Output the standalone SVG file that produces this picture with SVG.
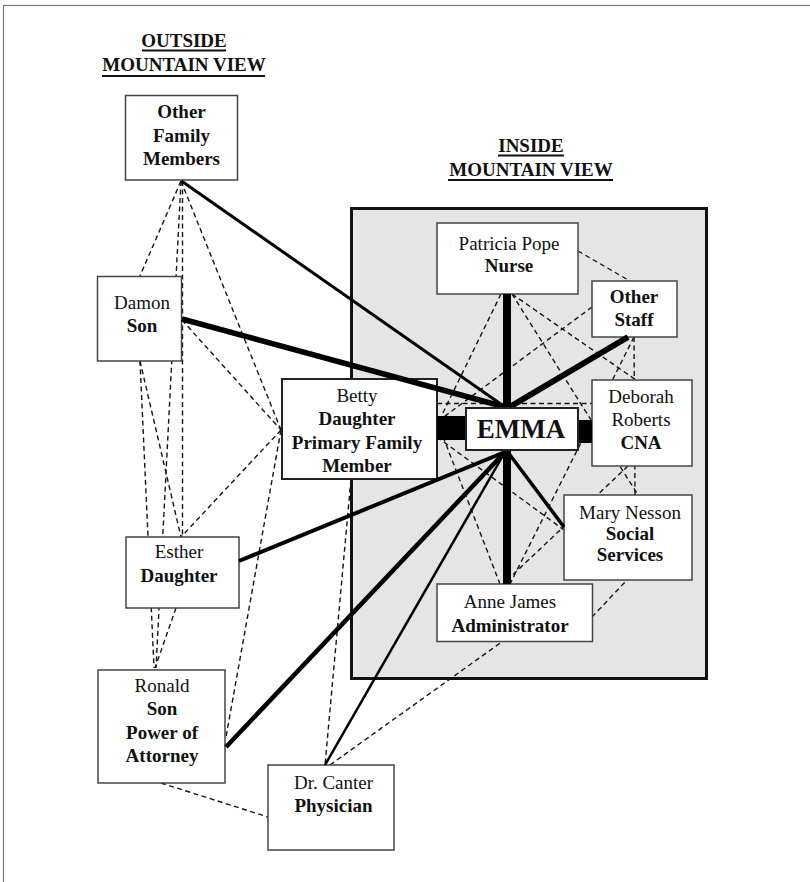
<svg xmlns="http://www.w3.org/2000/svg" width="810" height="882" viewBox="0 0 810 882">
<defs>
<style>
.t{font-family:"Liberation Serif","Times New Roman",serif;font-size:19px;fill:#111;text-anchor:middle}
.b{font-weight:bold}
.hdr{font-family:"Liberation Serif","Times New Roman",serif;font-size:19px;font-weight:bold;fill:#111;text-anchor:middle}
.ul{stroke:#111;stroke-width:1.8}
.box{fill:#fff;stroke:#444;stroke-width:1.5}
.box2{fill:#fff;stroke:#222;stroke-width:2}
.dash{stroke:#151515;stroke-width:1.4;stroke-dasharray:5 3.5;fill:none}
.solid{stroke:#000;fill:none}
</style>
</defs>
<rect x="0" y="0" width="810" height="882" fill="#fff"/>
<rect x="3.5" y="5.5" width="900" height="900" fill="none" stroke="#777" stroke-width="1.2"/>

<g id="headers">
<text class="hdr" x="184" y="46.7">OUTSIDE</text>
<line class="ul" x1="142" y1="50.5" x2="226" y2="50.5"/>
<text class="hdr" x="184" y="71">MOUNTAIN VIEW</text>
<line class="ul" x1="102" y1="76" x2="265" y2="76"/>
<text class="hdr" x="531" y="152">INSIDE</text>
<line class="ul" x1="498" y1="155.5" x2="564" y2="155.5"/>
<text class="hdr" x="531" y="175.5">MOUNTAIN VIEW</text>
<line class="ul" x1="448" y1="180" x2="613" y2="180"/>
</g>

<g id="inside-area">
<rect x="351.5" y="208.5" width="355" height="470" fill="#e5e5e5" stroke="#111" stroke-width="3"/>
</g>

<g id="connectors-dashed">
<path class="dash" d="M181,181 L140,276"/>
<path class="dash" d="M182.5,181 L182.5,537"/>
<path class="dash" d="M181,181 L156,668"/>
<path class="dash" d="M181,181 L281,430"/>
<path class="dash" d="M182,320 L281,430"/>
<path class="dash" d="M140,361 L181,537"/>
<path class="dash" d="M140,361 L154,668"/>
<path class="dash" d="M281,430 L181,537"/>
<path class="dash" d="M176,608 L155,668"/>
<path class="dash" d="M281,430 L226,737"/>
<path class="dash" d="M351,479 L325,765"/>
<path class="dash" d="M161,783 L268,817"/>
<path class="dash" d="M330,765 L503,641"/>
<path class="dash" d="M578,251 L630,281"/>
<path class="dash" d="M501,294 L437,425"/>
<path class="dash" d="M512,294 L636,380"/>
<path class="dash" d="M512,294 L638,495"/>
<path class="dash" d="M592,307 L437,422"/>
<path class="dash" d="M634,337 L635,495"/>
<path class="dash" d="M634,337 L510,584"/>
<path class="dash" d="M437,403.5 L592,403.5"/>
<path class="dash" d="M437,437 L564,530"/>
<path class="dash" d="M437,421 L500,584"/>
<path class="dash" d="M628,466 L503,584"/>
<path class="dash" d="M592,617 L627,580"/>
</g>

<g id="node-other-family">
<rect class="box" x="125.5" y="95.5" width="112" height="84.5"/>
<text class="t b" x="181.5" y="118">Other</text>
<text class="t b" x="181.5" y="141.5">Family</text>
<text class="t b" x="181.5" y="165">Members</text>
</g>
<g id="node-damon">
<rect class="box" x="97.5" y="276.5" width="84" height="84.5"/>
<text class="t" x="142" y="308.5">Damon</text>
<text class="t b" x="142" y="331.7">Son</text>
</g>
<g id="node-betty">
<rect class="box2" x="282" y="379" width="155" height="100"/>
<text class="t" x="357" y="402">Betty</text>
<text class="t b" x="357" y="425">Daughter</text>
<text class="t b" x="357" y="449">Primary Family</text>
<text class="t b" x="357" y="472">Member</text>
</g>
<g id="node-esther">
<rect class="box" x="126" y="537" width="113" height="71"/>
<text class="t" x="179" y="558">Esther</text>
<text class="t b" x="179" y="582">Daughter</text>
</g>
<g id="node-ronald">
<rect class="box" x="98" y="670" width="127" height="113"/>
<text class="t" x="162" y="691.7">Ronald</text>
<text class="t b" x="162" y="715">Son</text>
<text class="t b" x="162" y="738.5">Power of</text>
<text class="t b" x="162" y="761.7">Attorney</text>
</g>
<g id="node-canter">
<rect class="box" x="268" y="765" width="126" height="85"/>
<text class="t" x="333.5" y="789">Dr. Canter</text>
<text class="t b" x="333.5" y="812">Physician</text>
</g>
<g id="node-patricia">
<rect class="box" x="437" y="223" width="141" height="71"/>
<text class="t" x="509" y="250">Patricia Pope</text>
<text class="t b" x="509" y="272.3">Nurse</text>
</g>
<g id="node-other-staff">
<rect class="box" x="592" y="281" width="85" height="56"/>
<text class="t b" x="634" y="302.7">Other</text>
<text class="t b" x="634" y="326">Staff</text>
</g>
<g id="node-deborah">
<rect class="box" x="592" y="380" width="100" height="86"/>
<text class="t" x="641" y="402.7">Deborah</text>
<text class="t" x="641" y="426">Roberts</text>
<text class="t b" x="641" y="449.3">CNA</text>
</g>
<g id="node-mary">
<rect class="box" x="564" y="495" width="128" height="85"/>
<text class="t" x="630" y="519">Mary Nesson</text>
<text class="t b" x="630" y="540">Social</text>
<text class="t b" x="630" y="561">Services</text>
</g>
<g id="node-anne">
<rect class="box" x="437" y="584" width="155.5" height="57.5"/>
<text class="t" x="510" y="607.7">Anne James</text>
<text class="t b" x="510" y="631.7">Administrator</text>
</g>

<g id="connectors-solid">
<path class="solid" stroke-width="3" d="M181.5,181 L505,407"/>
<path class="solid" stroke-width="5.5" d="M182,319 L505,407"/>
<path class="solid" stroke-width="8" d="M507,294 L507,409"/>
<path class="solid" stroke-width="6" d="M628,337 L508,408"/>
<rect x="437" y="416" width="29" height="24" fill="#000"/>
<rect x="578" y="420" width="14" height="23" fill="#000"/>
<path class="solid" stroke-width="8" d="M507,449 L507,584"/>
<path class="solid" stroke-width="3.5" d="M507,451 L564,527"/>
<path class="solid" stroke-width="4" d="M505,452 L239,561"/>
<path class="solid" stroke-width="4.5" d="M505,452 L226,747"/>
<path class="solid" stroke-width="2.5" d="M505,452 L325,765"/>
</g>

<g id="node-emma">
<rect class="box2" x="466" y="408" width="112" height="42"/>
<text class="t b" x="521" y="438.3" style="font-size:27px">EMMA</text>
</g>
</svg>
